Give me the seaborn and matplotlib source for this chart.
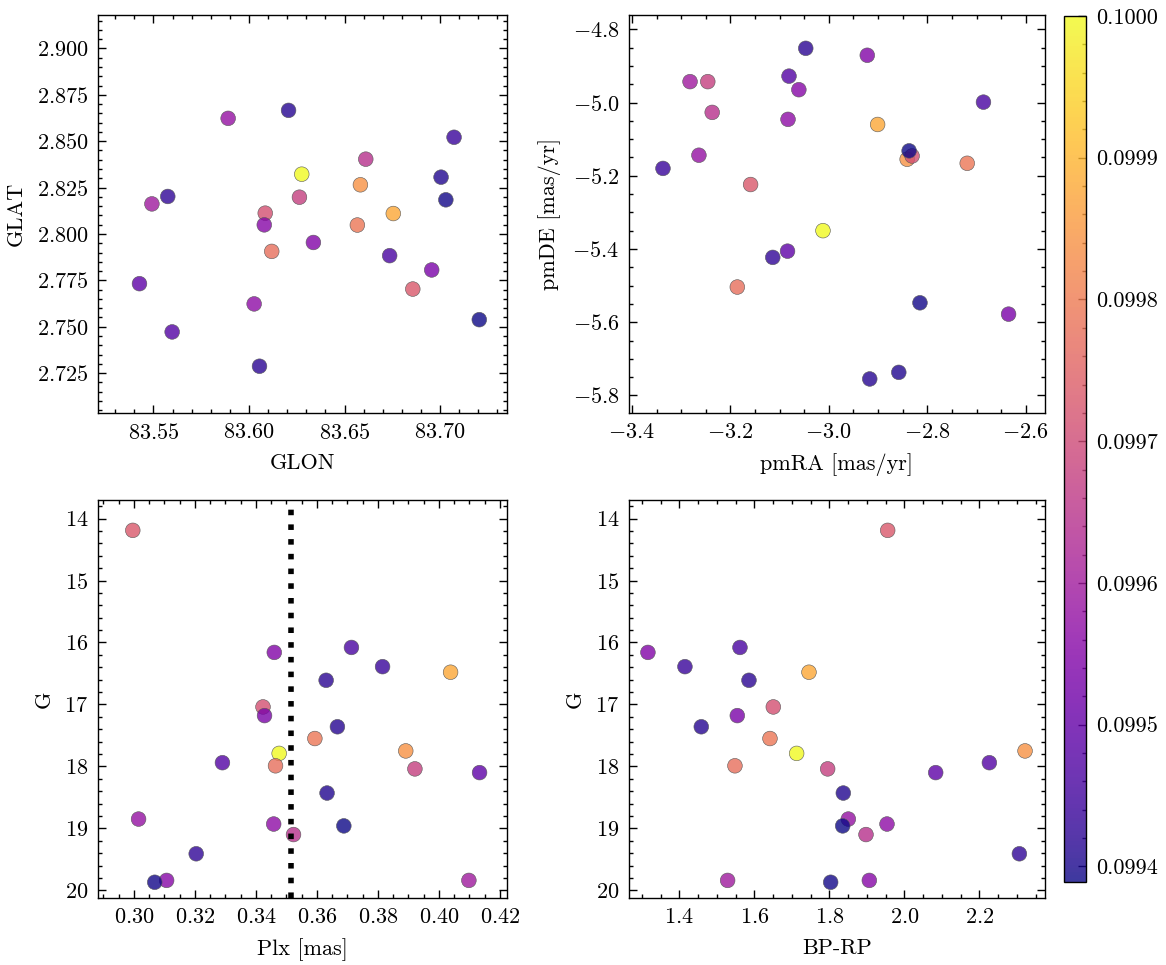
import numpy as np
import pandas as pd
import matplotlib
matplotlib.use("Agg")
import matplotlib.pyplot as plt
from matplotlib.colors import ListedColormap, Normalize
from matplotlib.cm import ScalarMappable
from matplotlib.ticker import AutoMinorLocator, FormatStrFormatter, MultipleLocator
import seaborn as sns

# Podaci (zvijezde u istom redoslijedu u svim panelima)
prob = [0.100000, 0.099878, 0.099841, 0.099792, 0.099774, 0.099731, 0.099713,
        0.099676, 0.099646, 0.099597, 0.099578, 0.099566, 0.099554, 0.099548,
        0.099536, 0.099493, 0.099475, 0.099462, 0.099438, 0.099426, 0.099420,
        0.099413, 0.099407, 0.099395, 0.099389]
glon = [83.6276, 83.6755, 83.6583, 83.6567, 83.6119, 83.6857, 83.6085, 83.6264,
        83.6611, 83.5492, 83.5891, 83.6027, 83.6080, 83.6337, 83.6956, 83.5427,
        83.5598, 83.6736, 83.7073, 83.5575, 83.6055, 83.6207, 83.7005, 83.7030,
        83.7205]
glat = [2.8322, 2.8110, 2.8265, 2.8048, 2.7906, 2.7703, 2.8112, 2.8198, 2.8403,
        2.8162, 2.8623, 2.7623, 2.8049, 2.7954, 2.7806, 2.7732, 2.7472, 2.7883,
        2.8521, 2.8202, 2.7287, 2.8666, 2.8306, 2.8184, 2.7538]
pmra = [-3.012, -2.901, -2.841, -2.719, -3.186, -3.159, -2.831, -3.246, -3.237,
        -3.282, -3.264, -3.083, -3.061, -2.922, -2.635, -3.084, -3.081, -2.686,
        -3.337, -3.114, -3.047, -2.917, -2.858, -2.815, -2.837]
pmde = [-5.350, -5.060, -5.155, -5.166, -5.504, -5.224, -5.146, -4.943, -5.027,
        -4.943, -5.144, -5.046, -4.965, -4.871, -5.578, -5.406, -4.928, -4.999,
        -5.180, -5.423, -4.852, -5.755, -5.737, -5.547, -5.132]
plx = [0.3476, 0.4038, 0.3891, 0.3593, 0.3464, 0.2996, 0.3423, 0.3921, 0.3523,
       0.4098, 0.3015, 0.3458, 0.3107, 0.3460, 0.3428, 0.4133, 0.3290, 0.3713,
       0.3815, 0.3204, 0.3630, 0.3667, 0.3633, 0.3068, 0.3688]
gmag = [17.79, 16.48, 17.75, 17.55, 17.99, 14.19, 17.04, 18.04, 19.10, 19.84,
        18.85, 18.93, 19.84, 16.16, 17.18, 18.10, 17.94, 16.08, 16.39, 19.41,
        16.61, 17.36, 18.43, 19.87, 18.96]
bp_rp = [1.7129, 1.7458, 2.3218, 1.6418, 1.5484, 1.9556, 1.6507, 1.7956, 1.8978,
         1.5289, 1.8507, 1.9538, 1.9067, 1.3164, 1.5547, 2.0836, 2.2267, 1.5618,
         1.4151, 2.3067, 1.5858, 1.4587, 1.8373, 1.8036, 1.8356]
plx_cut = 0.3514

df = pd.DataFrame({"GLON": glon, "GLAT": glat, "pmRA": pmra, "pmDE": pmde,
                   "Plx": plx, "G": gmag, "BP-RP": bp_rp, "prob": prob})

# Stil (otprilike SciencePlots)
sns.set_style("ticks")
plt.rcParams.update({
    "font.family": "serif",
    "font.serif": ["cmr10", "DejaVu Serif"],
    "mathtext.fontset": "cm",
    "axes.formatter.use_mathtext": True,
    "font.size": 8,
    "axes.labelsize": 8,
    "xtick.labelsize": 8,
    "ytick.labelsize": 8,
    "axes.linewidth": 0.5,
    "axes.edgecolor": "black",
    "xtick.direction": "in",
    "ytick.direction": "in",
    "xtick.top": True,
    "ytick.right": True,
    "xtick.major.size": 3,
    "ytick.major.size": 3,
    "xtick.minor.size": 1.5,
    "ytick.minor.size": 1.5,
    "xtick.major.width": 0.5,
    "ytick.major.width": 0.5,
    "xtick.minor.width": 0.5,
    "ytick.minor.width": 0.5,
    "xtick.color": "black",
    "ytick.color": "black",
    "axes.labelcolor": "black",
})

base = plt.get_cmap("plasma")(np.linspace(0, 1, 256))
base[:, 3] = 0.8
cmap = ListedColormap(base)
norm = Normalize(vmin=min(prob), vmax=max(prob))

W, H = 1166, 965
fig = plt.figure(figsize=(W / 200, H / 200), dpi=200)

def px_axes(l, t, r, b):
    return fig.add_axes([l / W, 1 - b / H, (r - l) / W, (b - t) / H])

ax1 = px_axes(98, 15, 507, 413)
ax2 = px_axes(629, 15, 1045, 413)
ax3 = px_axes(98, 500, 507, 898)
ax4 = px_axes(629, 500, 1045, 898)
cax = px_axes(1064, 16, 1086, 882)

panels = [
    (ax1, "GLON", "GLAT", (83.521, 83.735), (2.7035, 2.918)),
    (ax2, "pmRA", "pmDE", (-3.406, -2.561), (-5.848, -4.761)),
    (ax3, "Plx", "G", (0.2882, 0.4223), (20.124, 13.70)),
    (ax4, "BP-RP", "G", (1.266, 2.375), (20.124, 13.70)),
]
labels = {"pmRA": "pmRA [mas/yr]", "pmDE": "pmDE [mas/yr]", "Plx": "Plx [mas]"}

for ax, xc, yc, xl, yl in panels:
    sns.scatterplot(data=df, x=xc, y=yc, hue="prob", palette=cmap, hue_norm=norm,
                    s=28, edgecolor="0.35", linewidth=0.2, legend=False, ax=ax)
    ax.set_xlim(xl)
    ax.set_ylim(yl)
    ax.set_xlabel(labels.get(xc, xc))
    ax.set_ylabel(labels.get(yc, yc))
    ax.tick_params(which="both", top=True, right=True, direction="in")

ax1.yaxis.set_major_locator(MultipleLocator(0.025))
ax3.xaxis.set_major_locator(MultipleLocator(0.02))
for ax in (ax1, ax2, ax3, ax4):
    ax.xaxis.set_minor_locator(AutoMinorLocator())
    ax.yaxis.set_minor_locator(AutoMinorLocator())

ax3.axvline(plx_cut, color="black", lw=2, linestyle=":")

sm = ScalarMappable(norm=norm, cmap=cmap)
cbar = fig.colorbar(sm, cax=cax)
cbar.outline.set_linewidth(0.5)
cbar.ax.yaxis.set_major_formatter(FormatStrFormatter("%.4f"))
cbar.ax.yaxis.set_minor_locator(AutoMinorLocator())
cbar.ax.tick_params(which="both", direction="in", right=True, left=False)

fig.savefig("out.png", dpi=200)
